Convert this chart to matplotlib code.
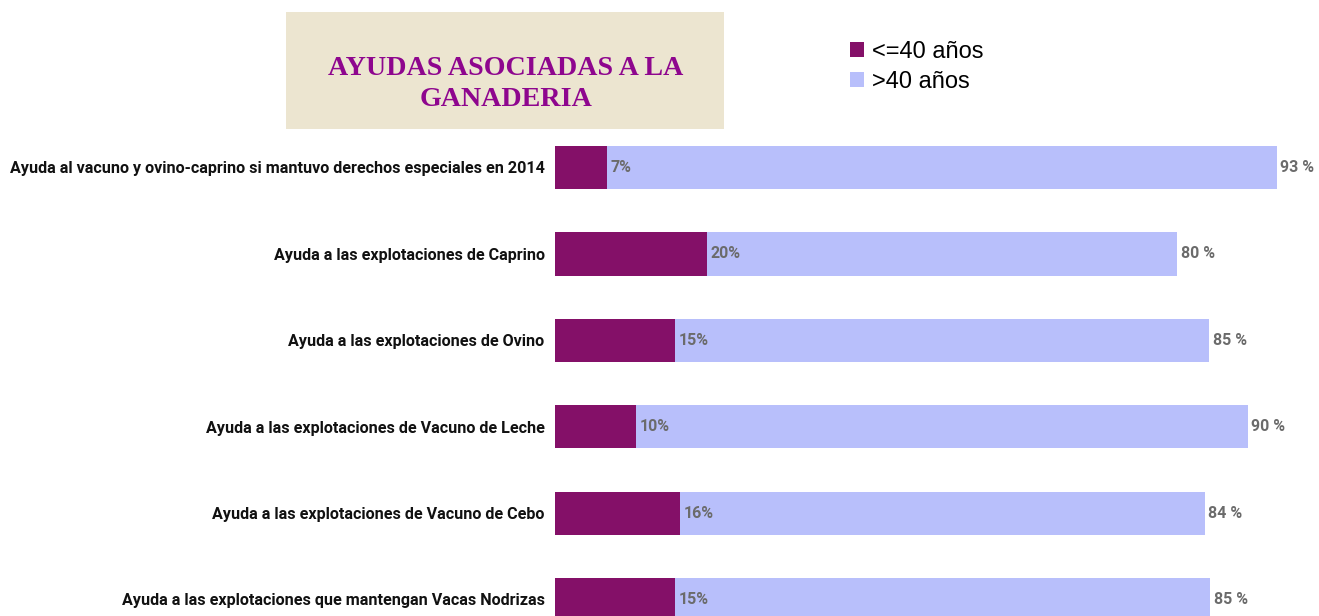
import matplotlib
matplotlib.use("Agg")
import matplotlib.pyplot as plt
from matplotlib.patches import Rectangle

categories = [
    "Ayuda al vacuno y ovino-caprino si mantuvo derechos especiales en 2014",
    "Ayuda a las explotaciones de Caprino",
    "Ayuda a las explotaciones de Ovino",
    "Ayuda a las explotaciones de Vacuno de Leche",
    "Ayuda a las explotaciones de Vacuno de Cebo",
    "Ayuda a las explotaciones que mantengan Vacas Nodrizas",
]
# bar lengths as drawn in the picture (arbitrary units)
young_vals = [7.0, 20.5, 16.2, 10.9, 16.9, 16.2]
old_vals = [90.5, 63.6, 72.2, 82.7, 70.9, 72.3]
young_labels = ["7%", "20%", "15%", "10%", "16%", "15%"]
old_labels = ["93 %", "80 %", "85 %", "90 %", "84 %", "85 %"]
series_names = ["<=40 años", ">40 años"]

c_young = "#841068"
c_old = "#B8BFFB"
narrow = ["Roboto", "DejaVu Sans"]

W, H = 1319, 616
fig = plt.figure(figsize=(W / 100, H / 100), dpi=100)
renderer = fig.canvas.get_renderer()

# measure font size for category labels so the longest spans ~537 px
probe = fig.text(0, 0, categories[0], fontsize=10, fontweight="bold", family=narrow)
w10 = probe.get_window_extent(renderer).width
probe.remove()
cat_fs = 10 * 537.0 / w10

ax_left, ax_right = 555, 1295
ax_top, ax_bottom = 124.3, 642.7
ax = fig.add_axes([ax_left / W, (H - ax_bottom) / H,
                   (ax_right - ax_left) / W, (ax_bottom - ax_top) / H])
y = list(range(len(categories)))
b1 = ax.barh(y, young_vals, height=0.5, color=c_young, label=series_names[0])
b2 = ax.barh(y, old_vals, left=young_vals, height=0.5, color=c_old, label=series_names[1])
ax.set_xlim(0, 100)
ax.set_ylim(len(categories) - 0.5, -0.5)
for s in ax.spines.values():
    s.set_visible(False)
ax.set_xticks([])
ax.set_yticks(y)
ax.set_yticklabels(categories, fontfamily=narrow, fontweight="bold", fontsize=cat_fs,
                   color="#111111")
ax.tick_params(axis="y", length=0, pad=7.5)

for i in y:
    ax.text(young_vals[i] + 0.5, i, young_labels[i], va="center", ha="left",
            color="#6b6b6b", fontweight="bold", fontsize=11.5, family=narrow)
    ax.text(young_vals[i] + old_vals[i] + 0.5, i, old_labels[i], va="center", ha="left",
            color="#6b6b6b", fontweight="bold", fontsize=11.5, family=narrow)

# title box
fig.patches.append(Rectangle((286 / W, (H - 129) / H), (724 - 286) / W, (129 - 12) / H,
                             transform=fig.transFigure, facecolor="#ECE5D0",
                             edgecolor="none", zorder=0))
fig.text(506 / W, (H - 84) / H, "AYUDAS ASOCIADAS A LA\nGANADERIA", ha="center", va="center",
         fontsize=20.2, fontweight="bold", color="#8E068E",
         family=["Liberation Serif", "DejaVu Serif"], linespacing=1.35)

fig.legend(handles=[b1, b2], labels=series_names, loc="upper left",
           bbox_to_anchor=(850 / W, (H - 41) / H), frameon=False,
           handlelength=0.6, handleheight=0.6, handletextpad=0.35,
           labelspacing=0.35, borderaxespad=0, borderpad=0,
           prop={"family": ["Liberation Sans", "DejaVu Sans"], "size": 17})

fig.savefig("out.png", dpi=100)
